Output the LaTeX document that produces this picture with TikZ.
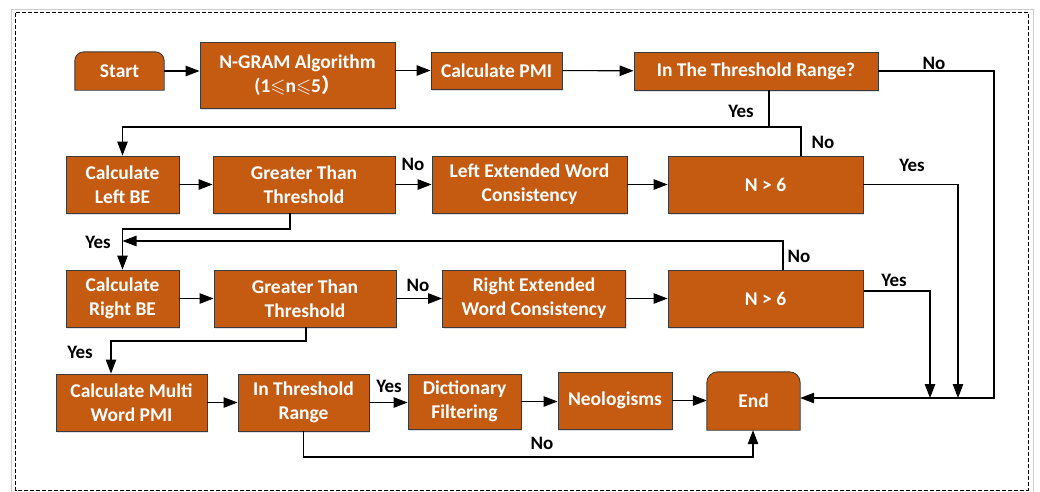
\documentclass[tikz,border=0pt]{standalone}
\usepackage{fontspec}
\usepackage{amssymb}
\setmainfont{Carlito}
\newfontfamily\cjk{Noto Sans CJK SC}
\usetikzlibrary{arrows.meta,backgrounds,shadows}
\definecolor{boxfill}{HTML}{C55A11}
\definecolor{boxline}{HTML}{3A3A3A}

\begin{document}
\begin{tikzpicture}[x=1pt, y=-1pt,
    box/.style={draw=boxline, fill=boxfill, line width=0.9pt, text=white, align=center,
      inner sep=0pt, font=\fontsize{19.5}{24}\selectfont\bfseries,
      drop shadow={shadow xshift=1pt, shadow yshift=-1.5pt, opacity=0.35, fill=blue!20!gray!60}},
    term/.style={text=white, align=center, inner sep=0pt, font=\fontsize{19.5}{24}\selectfont\bfseries},
    termshape/.style={draw=boxline, fill=boxfill, line width=0.9pt},
    lbl/.style={font=\fontsize{19}{24}\selectfont\bfseries, inner sep=1pt},
    arr/.style={-{Triangle[length=14pt,width=10.5pt]}, line width=1.1pt},
    line/.style={line width=1.1pt}]
      \useasboundingbox (0,0) rectangle (1040,491);

      % Rahmen
      \draw[gray!40, line width=1pt] (11.5,9) rectangle (1033,497);
      \draw[dash pattern=on 4pt off 2pt, line width=1pt] (15.5,12.5) rectangle (1028,490);

      % Zeile 1
      \node[term, minimum width=89pt, minimum height=38pt] (start) at (119.5,71) {Start};
      \node[box, minimum width=195pt, minimum height=66pt] (ngram) at (297.5,75) {N-GRAM Algorithm\\(1$\leqslant$n$\leqslant$5{\cjk ）}};
      \node[box, minimum width=131pt, minimum height=37pt] (pmi) at (496.5,70.5) {Calculate PMI};
      \node[box, minimum width=244pt, minimum height=38pt] (range) at (756,71) {In The Threshold Range?};

      % Zeile 2 (links)
      \node[box, minimum width=113pt, minimum height=57pt] (lbe) at (122.5,184.5) {Calculate\\Left BE};
      \node[box, minimum width=182pt, minimum height=57pt] (lgt) at (304,184.5) {Greater Than\\Threshold};
      \node[box, minimum width=195pt, minimum height=57pt] (lext) at (529.5,184.5) {Left Extended Word\\Consistency};
      \node[box, minimum width=195pt, minimum height=57pt] (ln6) at (765.5,184.5) {N > 6};

      % Zeile 3 (rechts)
      \node[box, minimum width=113pt, minimum height=57pt] (rbe) at (122.5,298.5) {Calculate\\Right BE};
      \node[box, minimum width=182pt, minimum height=57pt] (rgt) at (305,298.5) {Greater Than\\Threshold};
      \node[box, minimum width=183pt, minimum height=57pt] (rext) at (534,298.5) {Right Extended\\Word Consistency};
      \node[box, minimum width=195pt, minimum height=57pt] (rn6) at (765.5,298.5) {N > 6};

      % Zeile 4
      \node[box, minimum width=151pt, minimum height=57pt] (multi) at (131.5,402.5) {Calculate Multi\\Word PMI};
      \node[box, minimum width=131pt, minimum height=57pt] (inrange) at (303.5,402.5) {In Threshold\\Range};
      \node[box, minimum width=113pt, minimum height=55pt] (dict) at (464.5,401.5) {Dictionary\\Filtering};
      \node[box, minimum width=114pt, minimum height=57pt] (neo) at (615,400.5) {Neologisms};
      \node[term, minimum width=93pt, minimum height=58pt] (end) at (753.5,401) {End};

      % Start und End oben abgerundet
      \begin{scope}[on background layer]
        \filldraw[termshape] (start.south west) [rounded corners=9pt] -- (start.north west) -- (start.north east) [sharp corners] -- (start.south east) -- cycle;
        \filldraw[termshape] (end.south west) [rounded corners=11pt] -- (end.north west) -- (end.north east) [sharp corners] -- (end.south east) -- cycle;
      \end{scope}

      % Knickpunkte
      \coordinate (cno) at (994,398);
      \coordinate (cyes) at (769,127);
      \coordinate (cln) at (801,127);
      \coordinate (cly) at (958,398);
      \coordinate (cls) at (290,229);
      \coordinate (crn) at (783,241);
      \coordinate (cry) at (930,398);
      \coordinate (cryy) at (864,291);
      \coordinate (crs) at (111,341);
      \coordinate (cbot) at (753,457);

      % Zeile 1
      \draw[arr] (start) -- (start -| ngram.west);
      \draw[arr] (ngram.east |- pmi) -- (pmi);
      \draw[arr] (pmi) -- (range);
      \draw[arr] (range) -| (cno) -- (cno -| end.east);
      \draw[arr] (range.south -| cyes) -- (cyes) -| (lbe);
      \draw[line] (ln6.north -| cln) -- (cln) -- (cyes);

      % Zeile 2
      \draw[arr] (lbe) -- (lgt);
      \draw[arr] (lgt) -- (lext);
      \draw[arr] (lext) -- (ln6);
      \draw[arr] (ln6) -| (cly);
      \draw[arr] (lgt.south -| cls) -- (cls) -| (rbe);
      \draw[arr] (rn6.north -| crn) -- (crn) -- (rbe |- crn);

      % Zeile 3
      \draw[arr] (rbe) -- (rgt);
      \draw[arr] (rgt) -- (rext);
      \draw[arr] (rext) -- (rn6);
      \draw[arr] (cryy) -| (cry);
      \draw[arr] (rgt.south -| 306,0) |- (crs) -- (crs |- multi.north);

      % Zeile 4
      \draw[arr] (multi) -- (inrange);
      \draw[arr] (inrange) -- (inrange -| dict.west);
      \draw[arr] (dict) -- (dict -| neo.west);
      \draw[arr] (neo) -- (neo -| end.west);
      \draw[arr] (inrange) |- (cbot) -- (cbot |- end.south);

      % Beschriftungen
      \node[lbl] (l1) at (934,63) {No};
      \node[lbl] (l2) at (741,111) {Yes};
      \node[lbl] (l3) at (823,142) {No};
      \node[lbl] (l4) at (413,164) {No};
      \node[lbl] (l5) at (912,165) {Yes};
      \node[lbl] (l6) at (98,242) {Yes};
      \node[lbl] (l7) at (799,256) {No};
      \node[lbl] (l8) at (418,285) {No};
      \node[lbl] (l9) at (894,280) {Yes};
      \node[lbl] (l10) at (80,352) {Yes};
      \node[lbl] (l11) at (389,386) {Yes};
      \node[lbl] (l12) at (542,443) {No};
    \end{tikzpicture}
\end{document}
